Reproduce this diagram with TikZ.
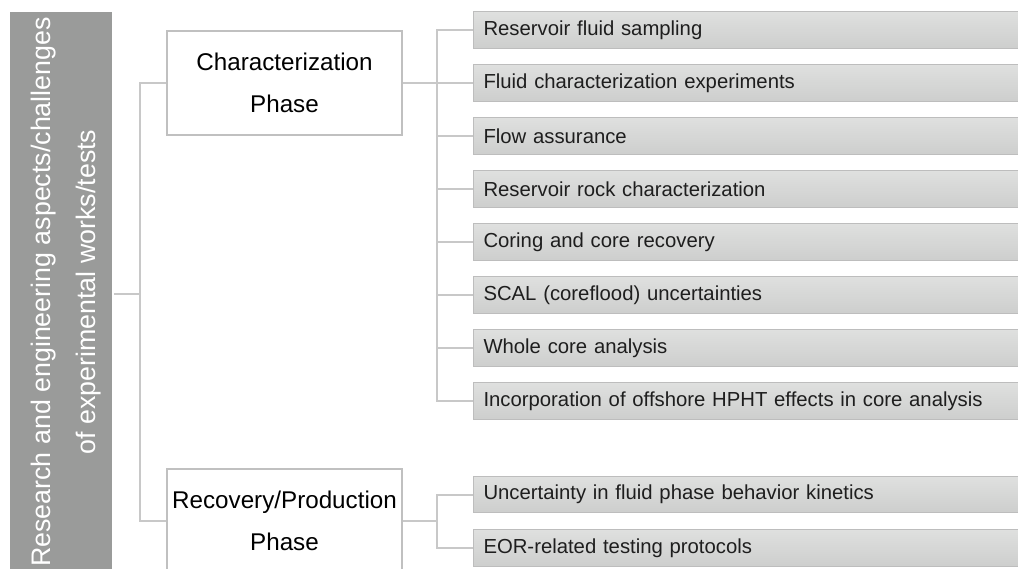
\documentclass[tikz,border=0pt]{standalone}
\usepackage{fontspec}
\setmainfont{Liberation Sans}
\usetikzlibrary{calc}
\definecolor{bargray}{HTML}{9A9B9A}
\definecolor{conngray}{HTML}{C8C8C8}
\definecolor{phaseborder}{HTML}{C0C0C0}
\definecolor{itemborder}{HTML}{BDBDBD}
\definecolor{itemtop}{HTML}{DFE0DF}
\definecolor{itembot}{HTML}{CDCECD}
\definecolor{itemtext}{HTML}{1E1E1E}
\tikzset{
  conn/.style={draw=conngray, line width=2pt},
  phasebox/.style={draw=phaseborder, line width=2pt, fill=white,
    minimum width=235pt, minimum height=104pt, align=center, inner sep=0pt,
    font=\fontsize{24.2}{42.5}\selectfont},
  itembox/.style={draw=itemborder, line width=1pt, top color=itemtop, bottom color=itembot,
    anchor=west, minimum width=580pt, minimum height=36.6pt, text width=560pt,
    inner xsep=7.5pt, inner ysep=0pt, align=left, text=itemtext,
    font=\fontsize{20.3}{24}\selectfont},
  sidebar/.style={fill=bargray, minimum width=101.7pt, minimum height=580pt, inner sep=0pt},
  sidetext/.style={rotate=90, text=white, align=center,
    font=\fontsize{26.8}{45}\selectfont}
}
\begin{document}
\begin{tikzpicture}[x=1pt,y=-1pt]
\useasboundingbox (0,0) rectangle (1018,569);
% left bar
\node[sidebar] (bar) at (60.85,302) {};
\node[sidetext] (bartext) at (66.5,292) {Research and engineering aspects/challenges\\of experimental works/tests};
% phase boxes
\node[phasebox] (char) at (284.5,83) {Characterization\\Phase};
\node[phasebox] (rec) at (284.5,521) {Recovery/Production\\Phase};
% items
\node[itembox] (i1) at (473,30) {Reservoir fluid sampling};
\node[itembox] (i2) at (473,83) {Fluid characterization experiments};
\node[itembox] (i3) at (473,136) {Flow assurance};
\node[itembox] (i4) at (473,189) {Reservoir rock characterization};
\node[itembox] (i5) at (473,242) {Coring and core recovery};
\node[itembox] (i6) at (473,295) {SCAL (coreflood) uncertainties};
\node[itembox] (i7) at (473,348) {Whole core analysis};
\node[itembox] (i8) at (473,401) {Incorporation of offshore HPHT effects in core analysis};
\node[itembox] (r1) at (473,494.5) {Uncertainty in fluid phase behavior kinetics};
\node[itembox] (r2) at (473,548) {EOR-related testing protocols};
% connectors
\coordinate (j) at (140,294);
\coordinate (k) at (437,83);
\coordinate (m) at (437,521);
\draw[conn] ($(bar.east)+(2,-8)$) -- (j);
\draw[conn] (char.west) -| (j) |- (rec.west);
\draw[conn] (char.east) -- (k);
\foreach \n in {i1,i2,i3,i4,i5,i6,i7,i8} {\draw[conn] (k) |- (\n.west);}
\draw[conn] (rec.east) -- (m);
\foreach \n in {r1,r2} {\draw[conn] (m) |- (\n.west);}
\end{tikzpicture}
\end{document}
